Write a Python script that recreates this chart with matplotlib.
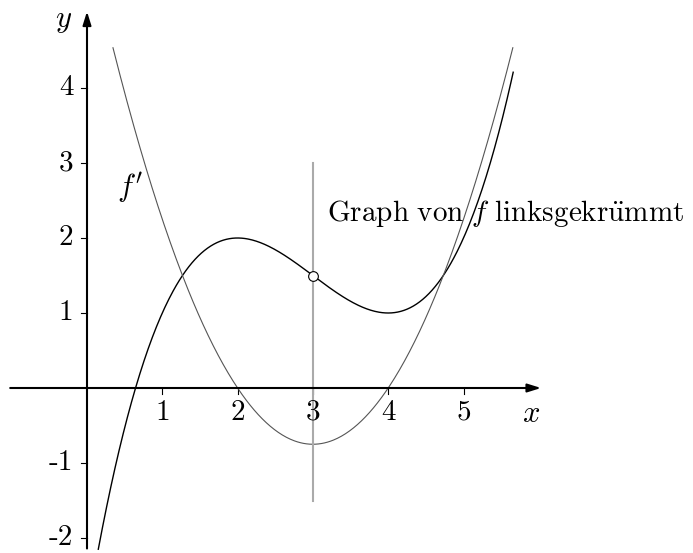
import numpy as np
import matplotlib
matplotlib.use("Agg")
import matplotlib.pyplot as plt

plt.rcParams['mathtext.fontset'] = 'cm'

# cubic f and its derivative f' (coefficients read from extrema (2,2), (4,1))
f_coeffs = [0.25, -2.25, 6.0, -3.0]
fp_coeffs = [0.75, -4.5, 6.0]
f_xrange = [0.15, 5.66]
fp_xrange = [0.345, 5.655]

# inflection point and vertical marker line
turn_x, turn_y = 3, 1.5
vline_y = [-1.5, 3]

x_ticks = [1, 2, 3, 4, 5]
y_ticks = [-2, -1, 1, 2, 3, 4]

FS = 21

fig = plt.figure(figsize=(6.93, 5.53), dpi=100)
ax = fig.add_axes([0, 0, 1, 1])
ax.set_xlim(-87 / 75.3, (693 - 87) / 75.3)
ax.set_ylim(-165 / 75.0, 388 / 75.0)
ax.axis('off')

# axes with arrows
ax.annotate('', xy=(6.03, 0), xytext=(-1.02, 0),
            arrowprops=dict(arrowstyle='-|>,head_length=0.8,head_width=0.25',
                            color='black', lw=1.5, shrinkA=0, shrinkB=0))
ax.annotate('', xy=(0, 5.02), xytext=(0, -2.14),
            arrowprops=dict(arrowstyle='-|>,head_length=0.8,head_width=0.25',
                            color='black', lw=1.5, shrinkA=0, shrinkB=0))

tl = 0.085
for t in x_ticks:
    ax.plot([t, t], [0, -tl], color='black', lw=0.8)
    ax.text(t, -0.15, str(t), ha='center', va='top', fontsize=FS, family='cmr10')
for t in y_ticks:
    ax.plot([0, -tl], [t, t], color='black', lw=0.8)
    ax.text(-0.18, t, str(t), ha='right', va='center', fontsize=FS, family='cmr10')

ax.text(5.9, -0.15, '$x$', ha='center', va='top', fontsize=FS + 1)
ax.text(-0.2, 4.9, '$y$', ha='right', va='center', fontsize=FS + 1)

# curves
xf = np.linspace(f_xrange[0], f_xrange[1], 400)
ax.plot(xf, np.polyval(f_coeffs, xf), color='black', lw=1.0)
xp = np.linspace(fp_xrange[0], fp_xrange[1], 400)
ax.plot(xp, np.polyval(fp_coeffs, xp), color='#555555', lw=0.8)

ax.plot([turn_x, turn_x], vline_y, color='#aaaaaa', lw=1.5)
ax.plot(turn_x, turn_y, 'o', ms=7, mfc='white', mec='black', mew=0.8, zorder=5)

ax.text(0.57, 2.67, "$f'$", ha='center', va='center', fontsize=FS + 1)
ax.text(3.19, 2.33, r'$\mathrm{Graph\ von\ }f\mathrm{\ linksgekr\ddot{u}mmt}$',
        ha='left', va='center', fontsize=FS)

fig.savefig('out.png', dpi=100, facecolor='white')
